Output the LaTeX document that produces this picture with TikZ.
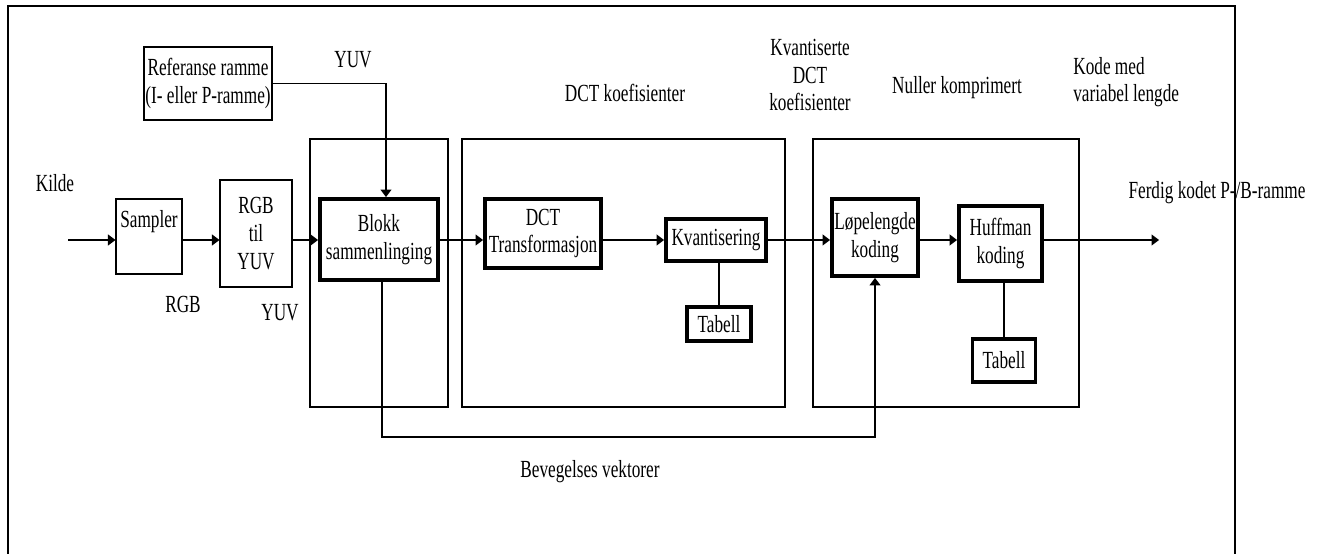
\documentclass[tikz,border=0pt]{standalone}
\usepackage{fontspec}
\setmainfont{Liberation Serif}[FakeStretch=0.7]
\usepackage{tikz}
\usetikzlibrary{arrows.meta}

\tikzset{
  every node/.style={font=\fontsize{14}{15.7}\selectfont},
  blk/.style={draw, line width=0.6pt, inner sep=0pt, align=center},
  tblk/.style={blk, line width=2.2pt},
  grp/.style={draw, line width=0.7pt},
  lbl/.style={inner sep=0pt, align=center},
  sig/.style={line width=0.6pt, -{Triangle[length=1.5mm,width=2.2mm]}},
  wire/.style={line width=0.6pt}
}

\begin{document}
\begin{tikzpicture}[x=0.2mm, y=-0.2mm]
\useasboundingbox (0,0) rectangle (1320,554);
\draw[line width=1.1pt] (8,554)--(8,6)--(1235,6)--(1235,554);

\coordinate (src) at (68,240);
\coordinate (dst) at (1159,240);
\coordinate (mv) at (0,437);

\draw[grp] (310,139) rectangle (448,407);
\draw[grp] (462,139) rectangle (785,407);
\draw[grp] (813,139) rectangle (1079,407);

\node[blk, minimum width=25.6mm, minimum height=14.6mm] (ref) at (208,83.5)
  {Referanse ramme\\(I- eller P-ramme)};
\node[blk, minimum width=13.2mm, minimum height=15mm] (sampler) at (149,236.5)
  {Sampler\\ \strut};
\node[blk, minimum width=14.4mm, minimum height=21.4mm] (rgb) at (256,233.5)
  {RGB\\til\\YUV};
\node[tblk, minimum width=23.6mm, minimum height=16.2mm] (blokk) at (379,239.5)
  {Blokk\\sammenlinging};
\node[tblk, minimum width=23.2mm, minimum height=13.8mm] (dct) at (543,233.5)
  {DCT\\Transformasjon};
\node[tblk, minimum width=20mm, minimum height=8.4mm] (kvant) at (716,240)
  {Kvantisering};
\node[tblk, minimum width=12.8mm, minimum height=6.8mm] (tab1) at (719,324)
  {Tabell};
\node[tblk, minimum width=17.2mm, minimum height=15.4mm] (lop) at (875,237.5)
  {Løpelengde\\koding};
\node[tblk, minimum width=16.6mm, minimum height=15mm] (huff) at (1000.5,243.5)
  {Huffman\\koding};
\node[tblk, minimum width=12.6mm, minimum height=8.6mm] (tab2) at (1004,360.5)
  {Tabell};

\draw[sig] (src) -- (src -| sampler.west);
\draw[sig] (src -| sampler.east) -- (src -| rgb.west);
\draw[sig] (src -| rgb.east) -- (src -| blokk.west);
\draw[sig] (src -| blokk.east) -- (src -| dct.west);
\draw[sig] (src -| dct.east) -- (src -| kvant.west);
\draw[sig] (src -| kvant.east) -- (src -| lop.west);
\draw[sig] (src -| lop.east) -- (src -| huff.west);
\draw[sig] (src -| huff.east) -- (dst);

\draw[sig] (ref.east) -| ([xshift=1.4mm]blokk.north);
\draw[sig] ([xshift=0.6mm]blokk.south) -- ([xshift=0.6mm]blokk.south |- mv) -| (lop.south);
\draw[wire] (tab1.north |- kvant.south) -- (tab1.north);
\draw[wire] (tab2.north |- huff.south) -- (tab2.north);

\node[lbl] (yuvtop) at (353,60) {YUV};
\node[lbl] (kilde) at (55,183) {Kilde};
\node[lbl] (rgblbl) at (183,304) {RGB};
\node[lbl] (yuvlbl) at (280,313) {YUV};
\node[lbl] (dctkoef) at (625,93) {DCT koefisienter};
\node[lbl] (kvkoef) at (810,75) {Kvantiserte\\DCT\\koefisienter};
\node[lbl] (nuller) at (957,88) {Nuller komprimert};
\node[lbl, anchor=west, align=left] (kode) at (1073,82) {Kode med\\variabel lengde};
\node[lbl] (ferdig) at (1217,193) {Ferdig kodet P-/B-ramme};
\node[lbl] (bevvek) at (590,472) {Bevegelses vektorer};
\end{tikzpicture}
\end{document}
